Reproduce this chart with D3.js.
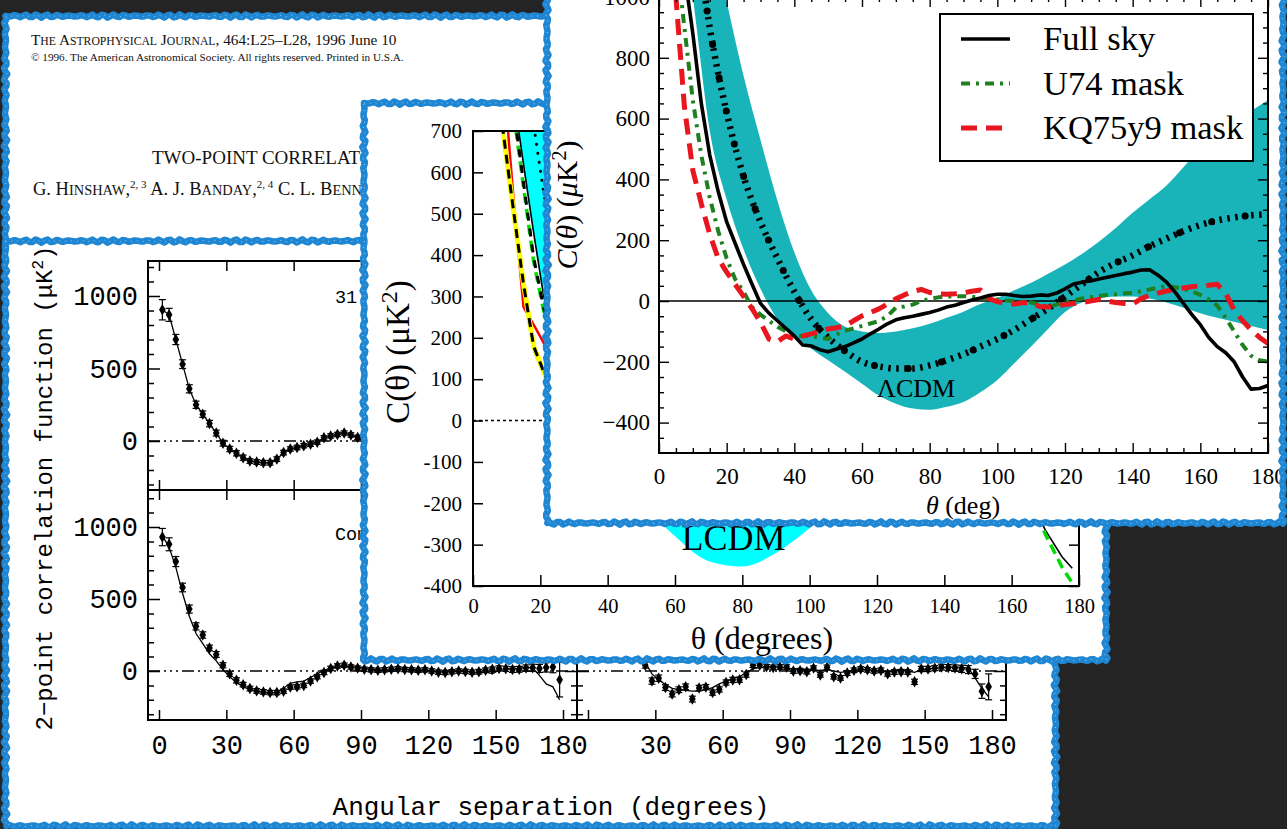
<!DOCTYPE html>
<html lang="en">
<head>
<meta charset="UTF-8">
<title>Two-point correlation C(theta) collage</title>
<style>
  html, body { margin: 0; padding: 0; background: #242424; overflow: hidden; }
  svg { display: block; }
</style>
</head>
<body>
<svg id="chart" width="1287" height="829"></svg>
<script src="https://d3js.org/d3.v7.min.js"></script>
<script>
// ---------------- data ----------------

// header of the 1996 letter (only the part left of the overlapping cut-outs)
const journalLine = 'The Astrophysical Journal';
const journalRest = ', 464:L25\u2013L28, 1996 June 10';
const copyrightLine = '\u00a9 1996. The American Astronomical Society. All rights reserved. Printed in U.S.A.';
const titleLine = 'TWO-POINT CORRELATION';
const authorNames = ['G. Hinshaw', 'A. J. Banday', 'C. L. Bennett'];
const authorNotes = ['2, 3', '2, 4', '2'];

// COBE DMR panels (deg, uK^2)
const cobeTheta = [1.5, 4.5, 7.5, 10.5, 13.5, 16.5, 19.5, 22.5, 25.5, 28.5,
  31.5, 34.5, 37.5, 40.5, 43.5, 46.5, 49.5, 52.5, 55.5, 58.5,
  61.5, 64.5, 67.5, 70.5, 73.5, 76.5, 79.5, 82.5, 85.5, 88.5,
  91.5, 94.5, 97.5, 100.5, 103.5, 106.5, 109.5, 112.5, 115.5, 118.5,
  121.5, 124.5, 127.5, 130.5, 133.5, 136.5, 139.5, 142.5, 145.5, 148.5,
  151.5, 154.5, 157.5, 160.5, 163.5, 166.5, 169.5, 172.5, 175.5, 178.5];
const cobeUpper = [905, 870, 700, 530, 360, 250, 185, 120, 55, -15,
  -55, -85, -115, -138, -145, -150, -150, -125, -80, -55,
  -45, -32, -22, -8, 22, 35, 45, 55, 42, 25, 15, 10];
const cobeUpperErr = [70, 45, 35, 30, 28, 25, 22, 22, 20, 20,
  18, 18, 18, 16, 16, 16, 16, 16, 16, 15,
  15, 15, 15, 15, 15, 15, 15, 15, 15, 15, 15, 15];
const cobeLower = [930, 880, 760, 580, 430, 310, 250, 160, 115, 40,
  -20, -65, -95, -122, -138, -145, -150, -150, -140, -112,
  -110, -100, -70, -40, -10, 18, 35, 40, 28, 20,
  12, 8, 5, 8, 12, 15, 10, 8, 5, 8,
  0, -8, -10, -5, 0, -3, -8, -5, 5, 12,
  18, 15, 10, 12, 20, 22, 18, 25, 28, -60];
const cobeLowerErr = [60, 45, 35, 30, 28, 25, 22, 20, 20, 18,
  18, 18, 16, 16, 16, 16, 15, 15, 15, 15,
  15, 15, 15, 15, 15, 15, 15, 15, 15, 15,
  15, 15, 15, 15, 15, 15, 15, 15, 15, 15,
  15, 15, 15, 15, 15, 15, 15, 16, 16, 16,
  18, 18, 20, 20, 22, 25, 28, 32, 40, 120];
const cobeLowerLine = [940, 860, 720, 540, 380, 260, 190, 120, 70, 10,
  -40, -80, -110, -128, -140, -148, -155, -148, -120, -85,
  -75, -70, -45, -20, 5, 20, 30, 35, 30, 25,
  18, 12, 8, 5, 8, 15, 12, 8, 10, 5,
  0, -5, -8, -5, -2, 0, -10, -15, -5, -20,
  5, 10, 20, 15, 30, 20, -30, -90, -110, -200];
const cobeRight = [920, 850, 720, 560, 420, 300, 220, 140, 40, -70,
  -50, -115, -160, -130, -110, -195, -118, -112, -150, -128,
  -80, -62, -60, -25, 40, 40, 30, 25, 28, 27,
  0, 2, -5, 20, -27, 25, -40, -48, -14, 5,
  14, 8, 0, 5, -20, -7, -5, -7, -75, 14,
  14, 20, 27, 25, 20, 15, 10, -20, -140, -110];
const cobeRightErr = [60, 45, 35, 30, 28, 25, 22, 20, 20, 22,
  22, 20, 20, 20, 20, 20, 18, 18, 18, 18,
  18, 18, 18, 18, 16, 16, 16, 16, 16, 16,
  16, 16, 16, 16, 16, 16, 16, 16, 16, 16,
  16, 16, 16, 16, 16, 16, 16, 16, 18, 18,
  18, 18, 20, 20, 22, 25, 28, 32, 50, 90];
const cobeRightLine = [940, 860, 720, 540, 380, 260, 190, 120, 60, -20,
  -60, -95, -120, -130, -135, -140, -140, -130, -115, -90,
  -70, -55, -40, -10, 15, 25, 28, 30, 25, 20,
  15, 10, 12, 8, 5, 10, 0, -10, -5, 5,
  10, 8, 5, 2, -5, 0, 5, 0, -10, 10,
  15, 18, 22, 25, 28, 25, 20, -50, -120, -180];
const cobeXTicks = [0, 30, 60, 90, 120, 150, 180];
const cobeLabelsLeft = [0, 30, 60, 90, 120, 150, 180];
const cobeLabelsRight = [30, 60, 90, 120, 150, 180];

// middle panel (ILC-type maps vs LCDM)
const p3Theta = [0, 3, 6, 9, 12, 15, 18, 21, 24, 27, 30, 40, 50, 60, 70, 80, 90, 100,
  110, 120, 130, 140, 150, 160, 165, 170, 175, 178];
const p3Yellow = [1400, 1150, 900, 695, 510, 330, 180, 118, 60, 10, -30, -120, -150, -120,
  -60, -20, 0, 10, 0, 20, 40, 30, 20, -60, -110, -150, -190, -215];
const p3Green = [1380, 1120, 870, 670, 490, 312, 168, 108, 52, 4, -36, -125, -150, -118,
  -58, -18, 2, 12, 2, 22, 42, 32, 22, -55, -105, -145, -185, -210];
const p3Red = [1500, 1250, 1040, 840, 540, 275, 232, 188, 130, 75, 25, -90, -140, -110,
  -50, -10, 5, 15, 5, 20, 35, 30, 15, -50, -90, -130, -170, -195];
const p3GreenDash = [1470, 1290, 1110, 930, 748, 565, 385, 265, 200, 130, 70, -60, -130, -120,
  -60, -20, 0, 10, 0, 15, 30, 25, 10, -70, -170, -275, -355, -393];
const p3BlackDash = [1480, 1300, 1120, 940, 758, 575, 395, 272, 205, 135, 72, -58, -128, -118,
  -58, -18, 2, 12, 2, 17, 32, 27, 12, -40, -90, -140, -180, -210];
const p3Black = [1500, 1330, 1150, 960, 790, 620, 455, 300, 210, 140, 80, -50, -120, -115,
  -60, -20, 0, 10, 5, 20, 35, 30, 15, -60, -180, -265, -330, -357];
const p3Mean = [2000, 1700, 1400, 1150, 1000, 880, 715, 550, 420, 310, 220, 0, -140, -215,
  -245, -248, -235, -190, -125, -50, 30, 110, 170, 220, 235, 250, 258, 262];
const p3Low = [1700, 1400, 1150, 950, 800, 610, 450, 300, 200, 120, 50, -130, -200, -280,
  -340, -353, -320, -260, -180, -100, -40, -10, -20, -50, -65, -80, -92, -100];
const p3Up = [3000, 2600, 2200, 1900, 1600, 1350, 1150, 980, 820, 680, 560, 250, 50, -60,
  -100, -100, -60, 0, 80, 170, 270, 380, 470, 560, 590, 620, 640, 650];
const p3XTicks = [0, 20, 40, 60, 80, 100, 120, 140, 160, 180];
const p3YTicks = [-400, -300, -200, -100, 0, 100, 200, 300, 400, 500, 600, 700];
const p3BandLabel = { text: 'LCDM', theta: 77.4, c: -313 };

// top-right panel (WMAP full sky and masked skies)
const wmapTheta = [0, 2.5, 5, 7.5, 10, 12.5, 15, 17.5, 20, 22.5,
  25, 27.5, 30, 32.5, 35, 37.5, 40, 42.5, 45, 47.5,
  50, 52.5, 55, 57.5, 60, 62.5, 65, 67.5, 70, 72.5,
  75, 77.5, 80, 82.5, 85, 87.5, 90, 92.5, 95, 97.5,
  100, 102.5, 105, 107.5, 110, 112.5, 115, 117.5, 120, 122.5,
  125, 127.5, 130, 132.5, 135, 137.5, 140, 142.5, 145, 147.5,
  150, 152.5, 155, 157.5, 160, 162.5, 165, 167.5, 170, 172.5,
  175, 177.5, 180];
const fullSky = [1750, 1550, 1300, 1080, 880, 650, 480, 360, 260, 190,
  120, 55, -8, -40, -65, -90, -115, -145, -148, -160,
  -167, -158, -150, -138, -125, -108, -92, -75, -62, -55,
  -50, -44, -38, -30, -20, -14, -5, 3, 10, 18,
  22, 22, 18, 15, 16, 20, 18, 26, 40, 56,
  62, 66, 72, 78, 84, 90, 95, 102, 103, 85,
  62, 30, -8, -45, -78, -120, -150, -170, -200, -250,
  -290, -288, -278];
const u74Mask = [1650, 1400, 1150, 900, 660, 480, 340, 230, 140, 72,
  30, -20, -45, -65, -85, -100, -115, -115, -115, -120,
  -125, -110, -98, -90, -82, -74, -66, -50, -22, -18,
  -12, 0, 7, 12, 14, 16, 16, 14, 10, 8,
  5, 2, 0, -3, -5, -12, -20, -12, -5, 2,
  8, 12, 16, 20, 22, 25, 27, 32, 38, 44,
  49, 45, 40, 32, 20, 5, -15, -55, -100, -145,
  -180, -195, -200];
const kq75Mask = [1500, 1250, 1000, 640, 430, 320, 220, 140, 95, 55,
  15, -25, -70, -125, -134, -115, -125, -115, -108, -100,
  -92, -88, -82, -65, -49, -38, -26, -10, 7, 20,
  32, 38, 28, 24, 22, 24, 27, 32, 36, 8,
  -2, -8, -10, -6, -6, -18, -20, -16, -12, -8,
  -5, 0, 5, 0, -5, -8, -10, 8, 18, 26,
  33, 38, 43, 47, 50, 52, 55, 25, -30, -65,
  -95, -120, -140];
const lcdmTheta = [0, 5, 10, 15, 20, 25, 30, 35, 40, 45, 50, 55, 60, 65, 70, 75, 80, 85, 90,
  95, 100, 105, 110, 115, 120, 125, 130, 135, 140, 145, 150, 155, 160, 165, 170, 175, 180];
const lcdmMean = [2400, 1800, 1300, 900, 620, 410, 260, 140, 30, -60, -120, -165, -200, -215,
  -222, -222, -212, -195, -175, -150, -125, -95, -60, -25, 15, 55, 95, 125, 150, 180,
  205, 230, 250, 265, 275, 282, 285];
const lcdmLow = [1900, 1400, 1000, 560, 335, 170, 40, -59, -110, -157, -195, -233, -272, -311,
  -338, -354, -358, -348, -332, -300, -260, -205, -150, -92, -36, -5, 10, 15, 15, 8,
  -5, -22, -40, -55, -68, -82, -95];
const lcdmUp = [3000, 2200, 1600, 1250, 985, 740, 530, 330, 160, 35, -40, -85, -100, -105,
  -100, -90, -75, -55, -35, -10, 10, 35, 60, 90, 120, 155, 195, 240, 290, 335,
  380, 440, 500, 545, 590, 625, 660];
const wmapXTicks = [0, 20, 40, 60, 80, 100, 120, 140, 160, 180];
const wmapYTicks = [-400, -200, 0, 200, 400, 600, 800, 1000];
const legendLabels = ['Full sky', 'U74 mask', 'KQ75y9 mask'];
const wmapBandLabel = { text: '\u039bCDM', theta: 76, c: -316 };

// ---------------- drawing ----------------
const BLUE = '#1e86d2';
const TEAL = '#18b4b9';
const svg = d3.select('#chart');
const defs = svg.append('defs');

function clip(id, x, y, w, h) {
  defs.append('clipPath').attr('id', id)
    .append('rect').attr('x', x).attr('y', y).attr('width', w).attr('height', h);
  return 'url(#' + id + ')';
}

// ragged outline for the blue cut-out frames
function roughPath(x0, y0, x1, y1) {
  const pts = [];
  let k = 0;
  const push = (x, y, nx, ny) => {
    const w = 1.1 * Math.sin(k * 1.7) + 0.6 * Math.sin(k * 4.3);
    pts.push([x + nx * w, y + ny * w]);
    k++;
  };
  for (let x = x0; x < x1; x += 3) push(x, y0, 0, 1);
  for (let y = y0; y < y1; y += 3) push(x1, y, 1, 0);
  for (let x = x1; x > x0; x -= 3) push(x, y1, 0, 1);
  for (let y = y1; y > y0; y -= 3) push(x0, y, 1, 0);
  return d3.line()(pts) + 'Z';
}

function panel(id, b) {
  const g = svg.append('g').attr('id', id);
  g.append('rect').attr('x', b.x0).attr('y', b.y0)
    .attr('width', b.x1 - b.x0).attr('height', b.y1 - b.y0).attr('fill', '#fff');
  const inner = g.append('g').attr('clip-path', clip(id + '-clip', b.x0, b.y0, b.x1 - b.x0, b.y1 - b.y0));
  return { g, inner, b };
}

function border(p) {
  const d = roughPath(p.b.x0, p.b.y0, p.b.x1, p.b.y1);
  p.g.append('path').attr('d', d).attr('fill', 'none')
    .attr('stroke', BLUE).attr('stroke-width', 6.5).attr('stroke-linejoin', 'round');
  p.g.append('path').attr('d', d).attr('fill', 'none')
    .attr('stroke', '#9fd0f2').attr('stroke-width', 1).attr('stroke-dasharray', '1 5');
}

function styleAxis(sel, family, size, width) {
  sel.attr('font-family', family).attr('font-size', size);
  sel.select('.domain').remove();
  sel.selectAll('.tick line').attr('stroke', '#000').attr('stroke-width', width || 1.5);
  sel.selectAll('.tick text').attr('fill', '#000');
}

function smallCaps(sel, str, big, small) {
  const runs = str.match(/[a-z\u00e0-\u00ff]+|[^a-z\u00e0-\u00ff]+/g);
  runs.forEach(r => {
    const lower = /[a-z\u00e0-\u00ff]/.test(r[0]);
    sel.append('tspan').attr('font-size', lower ? small : big).text(lower ? r.toUpperCase() : r);
  });
}

// ===== panel 1: journal header =====
const p1 = panel('header', { x0: 5.5, y0: 16, x1: 570, y1: 260 });
{
  const g = p1.inner.append('g').attr('font-family', 'Liberation Serif').attr('fill', '#111');
  const t1 = g.append('text').attr('x', 31).attr('y', 45);
  smallCaps(t1, journalLine, 15.3, 11.7);
  t1.append('tspan').attr('font-size', 15.3).text(journalRest);
  g.append('text').attr('x', 31).attr('y', 61).attr('font-size', 11.2).text(copyrightLine);
  g.append('text').attr('x', 152).attr('y', 164).attr('font-size', 19).text(titleLine);
  const t3 = g.append('text').attr('x', 33).attr('y', 195);
  authorNames.forEach((n, i) => {
    smallCaps(t3, n, 18.5, 14.4);
    t3.append('tspan').attr('font-size', 18.5).text(',');
    t3.append('tspan').attr('font-size', 11).attr('dy', -7).text(authorNotes[i]);
    t3.append('tspan').attr('font-size', 18.5).attr('dy', 7).text(' ');
  });
}
border(p1);

// ===== panel 2: COBE DMR correlation functions =====
const p2 = panel('cobe', { x0: 5.5, y0: 241, x1: 1055.5, y1: 826 });
const xL = d3.scaleLinear().domain([0, 180]).range([159, 563]);
const xR = d3.scaleLinear().domain([0, 180]).range([588, 992]);
const yUp = d3.scaleLinear().domain([0, 1000]).range([441, 296]);
const yLo = d3.scaleLinear().domain([0, 1000]).range([671, 527]);
const MONO = 'Liberation Mono';

function cobeSub(name, x, y, cols, rows, opt) {
  const [x0, x1] = cols, [y0, y1] = rows;
  const g = p2.inner.append('g');
  const plot = g.append('g').attr('clip-path', clip(name, x0, y0, x1 - x0, y1 - y0));
  plot.append('line').attr('x1', x0).attr('x2', x1).attr('y1', y(0)).attr('y2', y(0))
    .attr('stroke', '#000').attr('stroke-width', 1.3)
    .attr('stroke-dasharray', '12 4 2 4 2 4 2 4');
  const lo = y.invert(y1), hi = y.invert(y0);
  const minor = [-300, -200, -100, 100, 200, 300, 400, 600, 700, 800, 900, 1100, 1200]
    .filter(v => v > lo + 15 && v < hi - 15);
  const major = [0, 500, 1000].filter(v => v > lo && v < hi);
  g.append('g').attr('transform', `translate(${x0},0)`)
    .call(d3.axisLeft(y).tickValues(minor).tickSize(-6).tickFormat(''))
    .call(s => styleAxis(s, MONO, 27));
  g.append('g').attr('transform', `translate(${x0},0)`)
    .call(d3.axisLeft(y).tickValues(major).tickSize(-12).tickPadding(10)
      .tickFormat(opt.yLabels ? d3.format('d') : ''))
    .call(s => styleAxis(s, MONO, 27));
  g.append('g').attr('transform', `translate(${x1},0)`)
    .call(d3.axisRight(y).tickValues(minor).tickSize(-6).tickFormat(''))
    .call(s => styleAxis(s, MONO, 27));
  g.append('g').attr('transform', `translate(${x1},0)`)
    .call(d3.axisRight(y).tickValues(major).tickSize(-12).tickFormat(''))
    .call(s => styleAxis(s, MONO, 27));
  g.append('g').attr('transform', `translate(0,${y0})`)
    .call(d3.axisTop(x).tickValues(cobeXTicks).tickSize(-10).tickFormat(''))
    .call(s => styleAxis(s, MONO, 27));
  g.append('g').attr('transform', `translate(0,${y1})`)
    .call(d3.axisBottom(x).tickValues(cobeXTicks).tickSize(-10).tickPadding(15)
      .tickFormat(d => (opt.xLabels && opt.xLabels.includes(d)) ? d : ''))
    .call(s => styleAxis(s, MONO, 27));
  g.append('rect').attr('x', x0).attr('y', y0).attr('width', x1 - x0).attr('height', y1 - y0)
    .attr('fill', 'none').attr('stroke', '#000').attr('stroke-width', 2);
  if (opt.label) {
    g.append('text').attr('x', 335).attr('y', opt.labelY).attr('font-family', MONO)
      .attr('font-size', 18.5).text(opt.label);
  }
  return plot;
}

function cobeData(plot, x, y, vals, errs, line) {
  const pts = vals.map((v, i) => ({ t: cobeTheta[i], v, e: errs[i] }));
  const ln = d3.line().x((d, i) => x(cobeTheta[i])).y(d => y(d));
  plot.append('path').datum(line).attr('d', ln).attr('fill', 'none')
    .attr('stroke', '#000').attr('stroke-width', 1.3);
  const eb = plot.append('g').attr('stroke', '#000').attr('stroke-width', 1.2);
  eb.selectAll('line.bar').data(pts).join('line').attr('class', 'bar')
    .attr('x1', d => x(d.t)).attr('x2', d => x(d.t))
    .attr('y1', d => y(d.v - d.e)).attr('y2', d => y(d.v + d.e));
  [1, -1].forEach(s => {
    eb.selectAll('line.cap' + (s + 1)).data(pts).join('line').attr('class', 'cap' + (s + 1))
      .attr('x1', d => x(d.t) - 3.5).attr('x2', d => x(d.t) + 3.5)
      .attr('y1', d => y(d.v + s * d.e)).attr('y2', d => y(d.v + s * d.e));
  });
  plot.append('g').selectAll('path').data(pts).join('path')
    .attr('d', d3.symbol(d3.symbolDiamond, 38))
    .attr('transform', d => `translate(${x(d.t)},${y(d.v)})`).attr('fill', '#000');
}

const cUL = cobeSub('cobe-ul', xL, yUp, [148, 577], [261, 490],
  { yLabels: true, label: '31 GHz', labelY: 303 });
cobeData(cUL, xL, yUp, cobeUpper, cobeUpperErr, cobeUpper);
const cLL = cobeSub('cobe-ll', xL, yLo, [148, 577], [490, 720],
  { yLabels: true, xLabels: cobeLabelsLeft, label: 'Combined', labelY: 540 });
cobeData(cLL, xL, yLo, cobeLower, cobeLowerErr, cobeLowerLine);
const cLR = cobeSub('cobe-lr', xR, yLo, [577, 1006], [490, 720],
  { yLabels: false, xLabels: cobeLabelsRight });
cobeData(cLR, xR, yLo, cobeRight, cobeRightErr, cobeRightLine);

{
  const t = p2.inner.append('text').attr('transform', 'translate(52,488) rotate(-90)')
    .attr('text-anchor', 'middle').attr('font-family', MONO).attr('font-size', 24);
  t.append('tspan').text('2\u2212point correlation function (\u03bcK');
  t.append('tspan').attr('dy', -9).attr('font-size', 16).text('2');
  t.append('tspan').attr('dy', 9).text(')');
}
p2.inner.append('text').attr('x', 551).attr('y', 815).attr('text-anchor', 'middle')
  .attr('font-family', MONO).attr('font-size', 26).text('Angular separation (degrees)');
border(p2);

// ===== panel 3: ILC maps vs LCDM =====
const p3 = panel('ilc', { x0: 364, y0: 103, x1: 1106, y1: 660 });
const x3 = d3.scaleLinear().domain([0, 180]).range([473, 1079]);
const y3 = d3.scaleLinear().domain([-400, 700]).range([586, 131]);
const SERIF = 'Liberation Serif';
{
  const g = p3.inner;
  const plot = g.append('g').attr('clip-path', clip('p3plot', 473, 131, 606, 455));
  plot.append('path').datum(p3Theta)
    .attr('d', d3.area().x(t => x3(t)).y0((t, i) => y3(p3Low[i])).y1((t, i) => y3(p3Up[i]))
      .curve(d3.curveMonotoneX))
    .attr('fill', '#00ffff');
  plot.append('line').attr('x1', 473).attr('x2', 1079).attr('y1', y3(0)).attr('y2', y3(0))
    .attr('stroke', '#000').attr('stroke-width', 1.5).attr('stroke-dasharray', '3 3');
  const ln = vals => d3.line().x((t, i) => x3(t)).y((t, i) => y3(vals[i]))(p3Theta);
  const draw = (vals, color, w, dash, offset) => plot.append('path').attr('d', ln(vals))
    .attr('fill', 'none').attr('stroke', color).attr('stroke-width', w)
    .attr('stroke-dasharray', dash || null).attr('stroke-dashoffset', offset || 0);
  draw(p3Mean, '#000', 3, '0.1 9').attr('stroke-linecap', 'round');
  draw(p3Black, '#000', 1.6);
  draw(p3GreenDash, '#00dd00', 3.5, '10 6');
  draw(p3BlackDash, '#000', 3, '8 8', 8);
  draw(p3Red, '#ff0000', 2.5);
  draw(p3Green, '#00bb00', 1.2);
  draw(p3Yellow, '#ffff00', 5);
  draw(p3Yellow, '#000', 3, '9 6');

  g.append('text').attr('x', x3(p3BandLabel.theta)).attr('y', y3(p3BandLabel.c))
    .attr('text-anchor', 'middle').attr('font-family', SERIF).attr('font-size', 36)
    .text(p3BandLabel.text);

  g.append('g').attr('transform', 'translate(473,0)')
    .call(d3.axisLeft(y3).tickValues(p3YTicks).tickSize(-10).tickPadding(11).tickFormat(d => String(d)))
    .call(s => styleAxis(s, SERIF, 21));
  g.append('g').attr('transform', 'translate(1079,0)')
    .call(d3.axisRight(y3).tickValues(p3YTicks).tickSize(-10).tickFormat(''))
    .call(s => styleAxis(s, SERIF, 21));
  g.append('g').attr('transform', 'translate(0,586)')
    .call(d3.axisBottom(x3).tickValues(p3XTicks).tickSize(-11).tickPadding(12).tickFormat(d => String(d)))
    .call(s => styleAxis(s, SERIF, 20.5));
  g.append('rect').attr('x', 473).attr('y', 131).attr('width', 606).attr('height', 455)
    .attr('fill', 'none').attr('stroke', '#000').attr('stroke-width', 2);

  g.append('text').attr('x', 762).attr('y', 649).attr('text-anchor', 'middle')
    .attr('font-family', SERIF).attr('font-size', 32).text('\u03b8 (degrees)');
  const yl = g.append('text').attr('transform', 'translate(409,352) rotate(-90)')
    .attr('text-anchor', 'middle').attr('font-family', SERIF).attr('font-size', 33);
  yl.append('tspan').text('C(\u03b8) (\u03bcK');
  yl.append('tspan').attr('dy', -12).attr('font-size', 24).text('2');
  yl.append('tspan').attr('dy', 12).text(')');
}
border(p3);

// ===== panel 4: WMAP full sky and masks =====
const p4 = panel('wmap', { x0: 547, y0: -40, x1: 1283, y1: 523 });
const x4 = d3.scaleLinear().domain([0, 180]).range([659, 1268]);
const y4 = d3.scaleLinear().domain([-500, 1000]).range([453, -3]);
const GREEN = '#1f801f', RED = '#e8161e';
const seriesStyle = [
  { vals: fullSky, color: '#000', w: 3.6, dash: null },
  { vals: u74Mask, color: GREEN, w: 4, dash: '9 6 3 6' },
  { vals: kq75Mask, color: RED, w: 5, dash: '16 9' }
];
{
  const g = p4.inner;
  const plot = g.append('g').attr('clip-path', clip('p4plot', 659, -3, 609, 456));
  plot.append('path').datum(lcdmTheta)
    .attr('d', d3.area().x(t => x4(t)).y0((t, i) => y4(lcdmLow[i])).y1((t, i) => y4(lcdmUp[i]))
      .curve(d3.curveMonotoneX))
    .attr('fill', TEAL);
  plot.append('line').attr('x1', 659).attr('x2', 1268).attr('y1', y4(0)).attr('y2', y4(0))
    .attr('stroke', '#000').attr('stroke-width', 1.6);
  const meanLine = d3.line().x(t => x4(t)).y((t, i) => y4(lcdmMean[i])).curve(d3.curveMonotoneX);
  plot.append('path').datum(lcdmTheta).attr('d', meanLine).attr('fill', 'none')
    .attr('stroke', '#000').attr('stroke-width', 6.5).attr('stroke-dasharray', '2.5 5.5');
  plot.append('path').datum(lcdmTheta).attr('d', meanLine).attr('fill', 'none')
    .attr('stroke', '#000').attr('stroke-width', 7).attr('stroke-linecap', 'round')
    .attr('stroke-dasharray', '0 34');
  [1, 2, 0].forEach(k => {
    const s = seriesStyle[k];
    plot.append('path').datum(wmapTheta)
      .attr('d', d3.line().x(t => x4(t)).y((t, i) => y4(s.vals[i])))
      .attr('fill', 'none').attr('stroke', s.color).attr('stroke-width', s.w)
      .attr('stroke-dasharray', s.dash).attr('stroke-linejoin', 'round');
  });
  plot.append('text').attr('x', x4(wmapBandLabel.theta)).attr('y', y4(wmapBandLabel.c))
    .attr('text-anchor', 'middle').attr('font-family', SERIF).attr('font-size', 26)
    .text(wmapBandLabel.text);

  const minorX = d3.range(0, 181, 5).filter(v => v % 20 !== 0);
  const minorY = d3.range(-450, 1000, 50).filter(v => v % 200 !== 0);
  const ax = (axis, tr, font) => g.append('g').attr('transform', tr).call(axis)
    .call(s => styleAxis(s, SERIF, font || 23, 1.4));
  ax(d3.axisBottom(x4).tickValues(wmapXTicks).tickSize(-10).tickPadding(15).tickFormat(d3.format('d')), 'translate(0,453)');
  ax(d3.axisBottom(x4).tickValues(minorX).tickSize(-5).tickFormat(''), 'translate(0,453)');
  ax(d3.axisTop(x4).tickValues(wmapXTicks).tickSize(-10).tickFormat(''), 'translate(0,-3)');
  ax(d3.axisTop(x4).tickValues(minorX).tickSize(-5).tickFormat(''), 'translate(0,-3)');
  ax(d3.axisLeft(y4).tickValues(wmapYTicks).tickSize(-10).tickPadding(9).tickFormat(d3.format('d')), 'translate(659,0)');
  ax(d3.axisLeft(y4).tickValues(minorY).tickSize(-5).tickFormat(''), 'translate(659,0)');
  ax(d3.axisRight(y4).tickValues(wmapYTicks).tickSize(-10).tickFormat(''), 'translate(1268,0)');
  ax(d3.axisRight(y4).tickValues(minorY).tickSize(-5).tickFormat(''), 'translate(1268,0)');
  g.append('rect').attr('x', 659).attr('y', -3).attr('width', 609).attr('height', 456)
    .attr('fill', 'none').attr('stroke', '#000').attr('stroke-width', 2);

  // legend
  const lg = g.append('g');
  lg.append('rect').attr('x', 940).attr('y', 14).attr('width', 313).attr('height', 147)
    .attr('fill', '#fff').attr('stroke', '#000').attr('stroke-width', 2);
  legendLabels.forEach((lab, i) => {
    const s = seriesStyle[i];
    const yy = 39 + i * 44.5;
    lg.append('line').attr('x1', 961).attr('x2', 1010).attr('y1', yy).attr('y2', yy)
      .attr('stroke', s.color).attr('stroke-width', s.w).attr('stroke-dasharray', s.dash);
    lg.append('text').attr('x', 1043).attr('y', yy + 11).attr('font-family', SERIF)
      .attr('font-size', 34.5).text(lab);
  });

  const xl = g.append('text').attr('x', 963).attr('y', 514).attr('text-anchor', 'middle')
    .attr('font-family', SERIF).attr('font-size', 26);
  xl.append('tspan').attr('font-style', 'italic').text('\u03b8');
  xl.append('tspan').text(' (deg)');
  const yl = g.append('text').attr('transform', 'translate(577,205) rotate(-90)')
    .attr('text-anchor', 'middle').attr('font-family', SERIF).attr('font-size', 30);
  yl.append('tspan').attr('font-style', 'italic').text('C');
  yl.append('tspan').text('(');
  yl.append('tspan').attr('font-style', 'italic').text('\u03b8');
  yl.append('tspan').text(')  (');
  yl.append('tspan').attr('font-style', 'italic').text('\u03bc');
  yl.append('tspan').text('K');
  yl.append('tspan').attr('dy', -11).attr('font-size', 20).text('2');
  yl.append('tspan').attr('dy', 11).text(')');
}
border(p4);
</script>
</body>
</html>
